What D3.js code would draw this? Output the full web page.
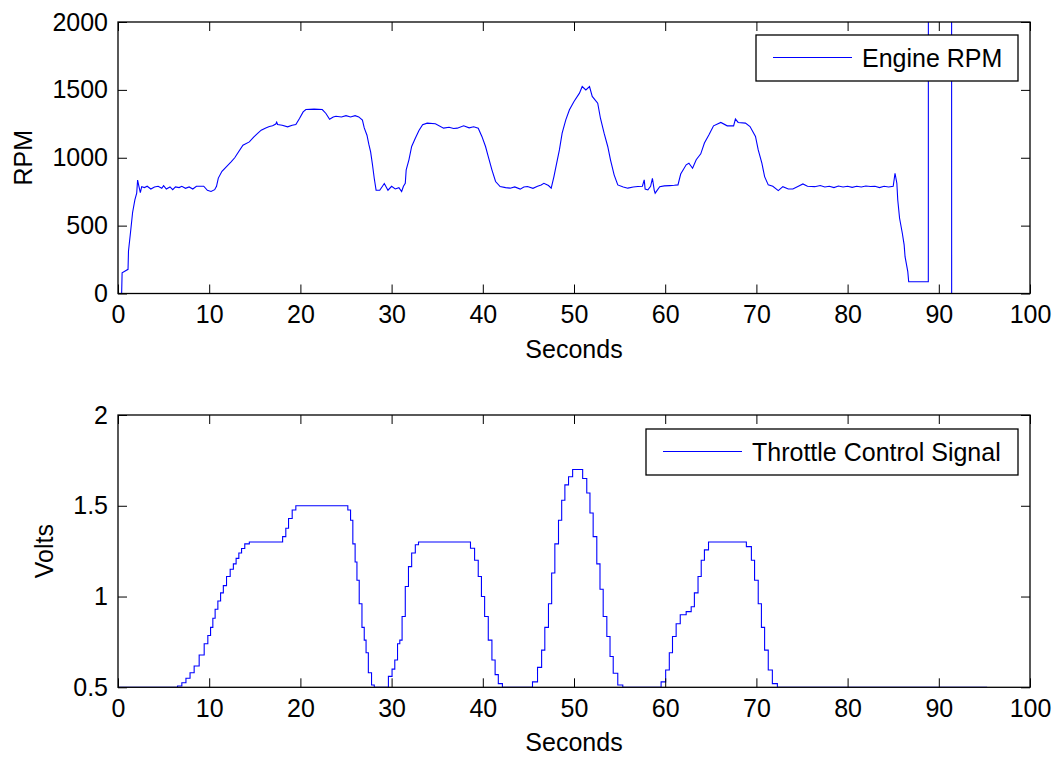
<!DOCTYPE html>
<html>
<head>
<meta charset="utf-8">
<script src="https://cdn.jsdelivr.net/npm/d3@7/dist/d3.min.js"></script>
<style>
	body{margin:0;background:#fff;}
	svg{display:block;font-family:"Liberation Sans",Arial,Helvetica,sans-serif;}
	.tick text{font-size:25px;fill:#000;}
	.tick line{stroke:#000;}
</style>
</head>
<body>
<svg id="chart" width="1058" height="758"></svg>
<script>
// engine rpm trace (seconds, rpm)
var rpmTime = [0,0.4,0.45,1.1,1.15,1.4,1.6,1.85,2.05,2.15,2.3,2.45,2.6,2.9,3.2,3.6,4.0,4.4,4.8,5.0,
	5.3,5.7,6.0,6.3,6.7,7.0,7.4,7.8,8.2,8.6,9.0,9.4,9.8,10.2,10.6,10.8,11.0,11.4,11.9,12.4,
	12.8,13.1,13.7,14.4,14.9,15.4,15.7,16.2,16.6,16.95,17.3,17.4,17.5,18.0,18.6,19.1,19.5,19.9,20.3,20.6,
	21.5,22.4,22.8,23.2,23.6,23.9,24.5,25.0,25.5,26.0,26.4,26.8,27.0,27.3,27.5,27.7,27.9,28.1,28.3,28.7,
	29.0,29.2,29.6,30.0,30.4,30.8,31.1,31.3,31.5,31.6,31.9,32.2,32.6,33.0,33.4,33.9,34.8,35.7,36.3,36.8,
	37.2,37.9,38.5,39.0,39.5,39.9,40.3,40.6,41.0,41.4,41.9,42.5,43.0,43.5,44.1,44.5,44.9,45.5,46.0,46.4,
	46.7,47.2,47.5,47.8,48.1,48.4,48.7,49.1,49.5,50.0,50.6,50.9,51.3,51.7,52.0,52.6,52.9,53.3,53.7,54.0,
	54.4,54.8,55.4,55.9,56.5,57.0,57.5,57.7,57.8,58.1,58.4,58.6,58.8,58.9,59.4,59.9,60.5,61.0,61.4,61.7,
	62.3,62.6,63.0,63.4,63.9,64.3,64.8,65.3,66.1,66.8,67.5,67.7,68.0,68.8,69.3,69.9,70.2,70.6,70.9,71.3,
	71.8,72.4,72.9,73.5,74.0,74.6,75.1,75.6,76.4,77.0,77.5,78.0,78.5,79.0,79.5,80.0,80.5,81.0,81.5,82.0,
	82.5,83.0,83.5,84.0,84.5,85.0,85.2,85.4,85.5,85.7,86.0,86.2,86.3,86.6,86.7,88.85,88.86,91.4,91.41,95.4];
var rpmValue = [0,0,153,178,313,468,597,690,739,836,787,743,787,780,790,770,785,790,775,795,
	770,785,765,785,780,790,775,785,770,790,790,790,760,752,765,790,850,900,935,970,
	1000,1031,1092,1117,1154,1185,1203,1220,1230,1235,1248,1262,1245,1240,1228,1240,1245,1289,1338,1355,
	1358,1355,1326,1284,1300,1306,1300,1310,1300,1310,1301,1277,1220,1166,1100,1043,950,847,761,761,
	790,810,761,790,770,780,751,790,812,911,985,1083,1144,1201,1243,1255,1250,1218,1225,1215,
	1218,1235,1220,1228,1218,1157,1083,1009,911,825,788,780,776,785,769,785,788,775,790,800,
	812,795,776,861,960,1058,1181,1279,1353,1415,1476,1525,1500,1525,1452,1402,1291,1181,1083,985,
	874,800,785,776,785,788,790,837,770,763,790,849,760,739,786,793,795,797,800,880,
	948,960,923,985,1029,1108,1169,1235,1260,1235,1235,1285,1260,1255,1230,1157,1058,960,861,800,
	790,758,787,770,770,790,807,790,787,795,785,790,780,792,785,790,782,790,785,792,
	788,790,780,790,785,790,886,812,689,554,444,358,271,161,87,87,3500,3500,0,0];

// throttle control signal (seconds, volts)
var thrTime = [0,6.25,6.8,7.2,7.7,8.1,8.6,9.2,9.7,10.0,10.3,10.5,10.8,11.1,11.4,11.7,12.1,12.5,12.8,13.1,
	13.4,13.7,14.1,14.7,17.8,18.3,18.5,18.9,19.3,19.7,25.0,25.4,25.6,25.9,26.1,26.3,26.6,26.9,27.1,27.3,
	27.6,28.0,28.2,29.4,29.9,30.2,30.5,30.8,31.0,31.3,31.7,32.0,32.4,32.8,33.1,38.4,38.9,39.3,39.7,40.0,
	40.4,40.8,41.2,41.5,41.9,42.4,45.2,45.7,46.3,46.6,47.0,47.4,47.7,48.1,48.5,48.8,49.2,49.6,50.1,50.7,
	51.2,51.6,51.9,52.3,52.7,53.0,53.4,53.8,54.1,54.5,55.1,55.6,59.3,59.8,60.3,60.6,61.0,61.4,61.9,62.7,
	63.0,63.4,63.8,64.1,64.5,65.0,68.5,69.3,69.6,70.0,70.4,70.7,71.1,71.5,72.0,72.6,95.3];
var thrValue = [0.5,0.5,0.507,0.525,0.55,0.58,0.617,0.678,0.74,0.785,0.83,0.88,0.93,0.975,1.02,1.06,1.11,1.15,1.18,1.21,
	1.24,1.265,1.29,1.30,1.30,1.33,1.376,1.43,1.477,1.5,1.5,1.477,1.42,1.29,1.19,1.09,0.96,0.83,0.76,0.69,
	0.58,0.513,0.5,0.5,0.56,0.6,0.65,0.74,0.76,0.89,1.055,1.165,1.24,1.285,1.3,1.3,1.266,1.2,1.11,1.0,
	0.89,0.76,0.65,0.57,0.52,0.5,0.5,0.53,0.61,0.705,0.83,0.96,1.13,1.29,1.42,1.53,1.615,1.66,1.70,1.70,
	1.65,1.57,1.46,1.33,1.18,1.04,0.89,0.78,0.67,0.577,0.513,0.5,0.5,0.53,0.595,0.69,0.78,0.85,0.90,0.917,
	0.944,1.02,1.11,1.2,1.257,1.3,1.3,1.275,1.2,1.09,0.96,0.83,0.705,0.595,0.52,0.5,0.5];

var xTicks = [0,10,20,30,40,50,60,70,80,90,100];
var rpmTicks = [0,500,1000,1500,2000];
var voltTicks = [0.5,1,1.5,2];

var svg = d3.select('#chart');
var left = 118, right = 1030;

function drawPanel(o){
	var g = svg.append('g');
	var x = d3.scaleLinear().domain([0,100]).range([left,right]);
	var y = d3.scaleLinear().domain(o.ydom).range([o.bottom,o.top]);

	g.append('clipPath').attr('id',o.id+'Clip')
		.append('rect').attr('x',left).attr('y',o.top).attr('width',right-left).attr('height',o.bottom-o.top);

	var data = o.t.map(function(d,i){ return [d,o.v[i]]; });
	var line = d3.line().curve(o.curve)
		.x(function(d){ return x(d[0]); })
		.y(function(d){ return y(d[1]); });
	g.append('path').datum(data)
		.attr('clip-path','url(#'+o.id+'Clip)')
		.attr('d',line)
		.attr('fill','none').attr('stroke','#0000ff').attr('stroke-width',1.1);

	// axes, ticks pointing inward like matlab
	var ax = [
		d3.axisBottom(x).tickValues(xTicks).tickFormat(d3.format('d')).tickSize(-9).tickPadding(12),
		d3.axisTop(x).tickValues(xTicks).tickFormat('').tickSize(-9),
		d3.axisLeft(y).tickValues(o.yticks).tickFormat(function(d){ return String(d); }).tickSize(-9).tickPadding(10),
		d3.axisRight(y).tickValues(o.yticks).tickFormat('').tickSize(-9)
	];
	var pos = ['translate(0,'+o.bottom+')','translate(0,'+o.top+')','translate('+left+',0)','translate('+right+',0)'];
	ax.forEach(function(a,i){
		var ag = g.append('g').attr('transform',pos[i]).call(a);
		ag.select('.domain').remove();
		ag.attr('font-family',null).attr('font-size',null);
	});
	g.append('rect').attr('x',left).attr('y',o.top).attr('width',right-left).attr('height',o.bottom-o.top)
		.attr('fill','none').attr('stroke','#000').attr('stroke-width',1.3);

	// labels
	g.append('text').attr('x',(left+right)/2).attr('y',o.bottom+64)
		.attr('text-anchor','middle').attr('font-size',25).text('Seconds');
	g.append('text').attr('transform','translate('+o.ylabX+','+(o.top+o.bottom)/2+') rotate(-90)')
		.attr('text-anchor','middle').attr('font-size',25).text(o.ylabel);

	// legend
	var L = o.legend;
	g.append('rect').attr('x',L.x).attr('y',L.y).attr('width',L.w).attr('height',46)
		.attr('fill','#fff').attr('stroke','#000').attr('stroke-width',1.3);
	g.append('line').attr('x1',L.x+17).attr('x2',L.x+96).attr('y1',L.y+22.5).attr('y2',L.y+22.5)
		.attr('stroke','#0000ff').attr('stroke-width',1.1);
	g.append('text').attr('x',L.x+106).attr('y',L.y+31.5).attr('font-size',25).text(L.text);
}

drawPanel({id:'rpm', t:rpmTime, v:rpmValue, ydom:[0,2000], yticks:rpmTicks, top:22, bottom:293.5, curve:d3.curveLinear,
	ylabel:'RPM', ylabX:32, legend:{x:756, y:35, w:262, text:'Engine RPM'}});
drawPanel({id:'thr', t:thrTime, v:thrValue, ydom:[0.5,2], yticks:voltTicks, top:415, bottom:687.3, curve:d3.curveStep,
	ylabel:'Volts', ylabX:53, legend:{x:646, y:429, w:372, text:'Throttle Control Signal'}});
</script>
</body>
</html>
